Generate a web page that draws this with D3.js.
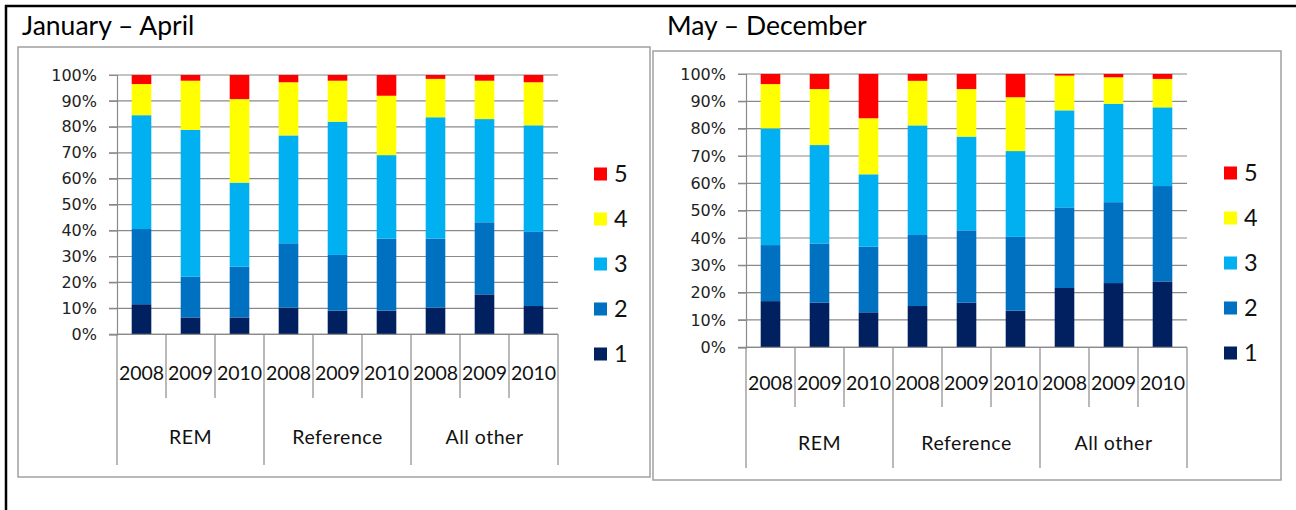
<!DOCTYPE html>
<html>
<head>
<meta charset="utf-8">
<script src="https://cdn.jsdelivr.net/npm/d3@7"></script>
<style>
  body { margin: 0; background: #fff; }
  svg { display: block; }
</style>
</head>
<body>
<div id="chart"></div>
<script>
// categories
const groups = ["REM", "Reference", "All other"];
const years = ["2008", "2009", "2010"];
const seriesNames = ["1", "2", "3", "4", "5"];
const seriesColors = ["#002060", "#0070C0", "#00B0F0", "#FFFF00", "#FF0000"];
const yTicks = [0, 0.1, 0.2, 0.3, 0.4, 0.5, 0.6, 0.7, 0.8, 0.9, 1];

// January - April, share per class (%), bars in order REM 08-10, Reference 08-10, All other 08-10
const janApr1 = [11.6, 6.5, 6.5, 10.3, 9.1, 9.1, 10.3, 15.4, 10.9];
const janApr2 = [29.0, 15.7, 19.6, 24.8, 21.5, 27.8, 26.6, 27.8, 28.6];
const janApr3 = [43.9, 56.6, 32.4, 41.6, 51.4, 32.2, 46.8, 39.8, 41.1];
const janApr4 = [12.0, 19.0, 32.2, 20.5, 15.8, 22.9, 14.8, 14.8, 16.6];
const janApr5 = [3.5, 2.2, 9.3, 2.8, 2.2, 8.0, 1.5, 2.2, 2.8];

// May - December
const mayDec1 = [16.9, 16.3, 12.8, 15.1, 16.3, 13.4, 21.7, 23.5, 24.1];
const mayDec2 = [20.5, 21.7, 24.0, 26.0, 26.5, 27.0, 29.5, 29.6, 34.9];
const mayDec3 = [42.7, 36.0, 26.5, 40.1, 34.3, 31.4, 35.5, 36.0, 28.8];
const mayDec4 = [16.2, 20.5, 20.5, 16.3, 17.4, 19.7, 12.7, 9.7, 10.4];
const mayDec5 = [3.7, 5.5, 16.2, 2.5, 5.5, 8.5, 0.6, 1.2, 1.8];

const W = 1296, H = 510;
const svg = d3.select("#chart").append("svg")
    .attr("width", W)
    .attr("height", H);

// outer frame (top and left edge only)
svg.append("line").attr("x1", 5).attr("y1", 6).attr("x2", W).attr("y2", 6)
    .attr("stroke", "#000").attr("stroke-width", 2.5);
svg.append("line").attr("x1", 6).attr("y1", 5).attr("x2", 6).attr("y2", H)
    .attr("stroke", "#000").attr("stroke-width", 2.5);

const labelFont = "Lato, 'Open Sans', sans-serif";
const tickFont = "'DejaVu Sans', Verdana, sans-serif";

const buildRows = (cols) => {
    const rows = [];
    groups.forEach((grp, gi) => {
        years.forEach((yr, yi) => {
            const i = gi * years.length + yi;
            const row = { key: grp + "|" + yr, group: grp, year: yr };
            seriesNames.forEach((s, si) => { row[s] = cols[si][i]; });
            rows.push(row);
        });
    });
    return rows;
};

const drawChart = (opt, cols) => {
    // panel box
    svg.append("rect")
        .attr("x", opt.box[0]).attr("y", opt.box[1])
        .attr("width", opt.box[2] - opt.box[0]).attr("height", opt.box[3] - opt.box[1])
        .attr("fill", "none").attr("stroke", "#a0a0a0").attr("stroke-width", 1.5);

    svg.append("text")
        .attr("x", opt.titleX).attr("y", 35)
        .attr("font-family", labelFont).attr("font-size", 26.5)
        .attr("fill", "#000")
        .text(opt.title);

    const rows = buildRows(cols);
    const keys = rows.map(d => d.key);

    const slot = d3.scaleBand().domain(keys).range([opt.left, opt.right]);
    const y = d3.scaleLinear().domain([0, 1]).range([opt.bottom, opt.top]);

    const stack = d3.stack().keys(seriesNames).offset(d3.stackOffsetExpand);
    const layers = stack(rows);

    const g = svg.append("g");

    // gridlines
    g.append("g").selectAll("line")
        .data(yTicks)
        .join("line")
        .attr("x1", opt.left - 8).attr("x2", opt.right)
        .attr("y1", d => y(d)).attr("y2", d => y(d))
        .attr("stroke", "#8a8a8a").attr("stroke-width", 1.2);

    // y axis
    const yAxis = g.append("g")
        .attr("transform", `translate(${opt.left},0)`)
        .call(d3.axisLeft(y).tickValues(yTicks).tickFormat(d3.format(".0%")).tickSize(8).tickPadding(12));
    yAxis.select(".domain").attr("stroke", "#8a8a8a").attr("stroke-width", 1.2);
    yAxis.selectAll(".tick line").attr("stroke", "#8a8a8a");
    yAxis.selectAll("text")
        .attr("font-family", tickFont).attr("font-size", 16)
        .attr("fill", "#222");

    // bars
    const bw = slot.bandwidth() * 0.4;
    g.append("g").selectAll("g")
        .data(layers)
        .join("g")
        .attr("fill", (d, i) => seriesColors[i])
        .selectAll("rect")
        .data(d => d)
        .join("rect")
        .attr("x", d => slot(d.data.key) + (slot.bandwidth() - bw) / 2)
        .attr("width", bw)
        .attr("y", d => y(d[1]))
        .attr("height", d => y(d[0]) - y(d[1]));

    // category axis: year ticks and group separators
    const axisG = g.append("g").attr("stroke", "#8a8a8a").attr("stroke-width", 1.2);
    axisG.append("line")
        .attr("x1", opt.left).attr("x2", opt.right)
        .attr("y1", opt.bottom).attr("y2", opt.bottom);
    keys.forEach((k, i) => {
        if (i === 0) return;
        const isGroupEdge = i % years.length === 0;
        axisG.append("line")
            .attr("x1", slot(k)).attr("x2", slot(k))
            .attr("y1", opt.bottom)
            .attr("y2", isGroupEdge ? opt.groupBottom : opt.yearBottom);
    });
    [opt.left, opt.right].forEach(xv => {
        axisG.append("line")
            .attr("x1", xv).attr("x2", xv)
            .attr("y1", opt.bottom).attr("y2", opt.groupBottom);
    });

    g.append("g").selectAll("text")
        .data(rows)
        .join("text")
        .attr("x", d => slot(d.key) + slot.bandwidth() / 2)
        .attr("y", opt.yearY)
        .attr("dy", "0.35em")
        .attr("text-anchor", "middle")
        .attr("font-family", labelFont).attr("font-size", 19.5)
        .attr("fill", "#111")
        .text(d => d.year);

    g.append("g").selectAll("text")
        .data(groups)
        .join("text")
        .attr("x", (d, gi) => {
            const first = slot(keys[gi * years.length]);
            return first + slot.step() * years.length / 2;
        })
        .attr("y", opt.groupY)
        .attr("dy", "0.35em")
        .attr("text-anchor", "middle")
        .attr("font-family", labelFont).attr("font-size", 19.5)
        .attr("letter-spacing", 0.5)
        .attr("fill", "#111")
        .text(d => d);

    // legend, 5 on top
    const legendItems = seriesNames.map((s, i) => ({ name: s, color: seriesColors[i] })).reverse();
    const lg = g.append("g").selectAll("g")
        .data(legendItems)
        .join("g")
        .attr("transform", (d, i) => `translate(${opt.legendX},${opt.legendY + i * 45})`);
    lg.append("rect")
        .attr("x", 0).attr("y", -6.5)
        .attr("width", 13).attr("height", 13)
        .attr("fill", d => d.color);
    lg.append("text")
        .attr("x", 20).attr("y", 0)
        .attr("dy", "0.35em")
        .attr("font-family", labelFont).attr("font-size", 23.5)
        .attr("fill", "#111")
        .text(d => d.name);
};

drawChart({
    title: "January \u2013 April", titleX: 22,
    box: [18, 47, 650, 477],
    left: 117, right: 558, top: 75, bottom: 334.3,
    yearBottom: 398, groupBottom: 465, yearY: 373, groupY: 437,
    legendX: 594, legendY: 174
}, [janApr1, janApr2, janApr3, janApr4, janApr5]);

drawChart({
    title: "May \u2013 December", titleX: 667,
    box: [653, 51, 1281, 480],
    left: 746, right: 1187, top: 74, bottom: 347.3,
    yearBottom: 407, groupBottom: 468, yearY: 383, groupY: 443,
    legendX: 1224, legendY: 173
}, [mayDec1, mayDec2, mayDec3, mayDec4, mayDec5]);
</script>
</body>
</html>
